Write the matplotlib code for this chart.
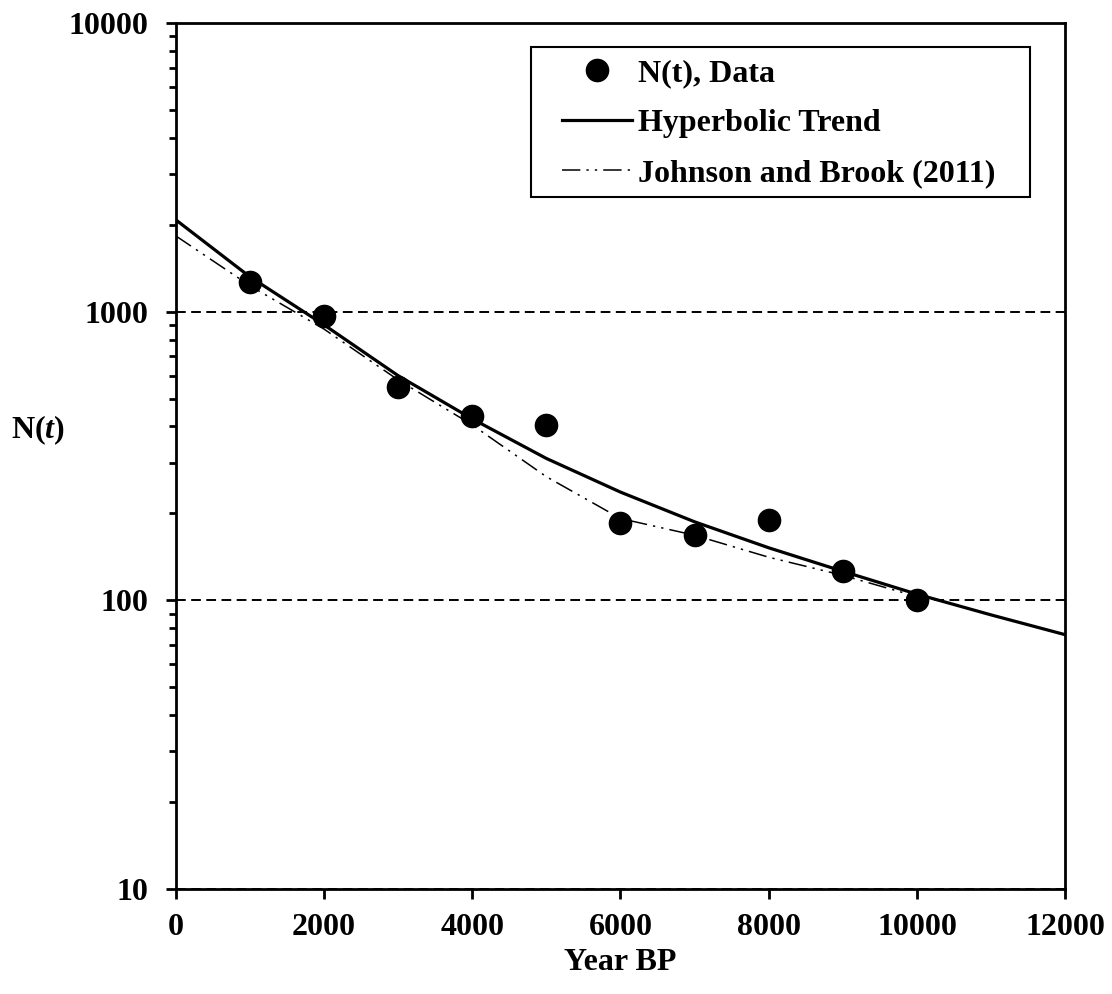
"""Population N(t) vs Year BP, log scale."""

import matplotlib
matplotlib.use("Agg")
import matplotlib.pyplot as plt
from matplotlib.patches import Rectangle
from matplotlib.ticker import FixedLocator, LogLocator, NullFormatter

plt.rcParams["font.family"] = ["Liberation Serif", "DejaVu Serif"]
plt.rcParams["font.weight"] = "bold"
plt.rcParams["mathtext.fontset"] = "custom"
plt.rcParams["mathtext.rm"] = "Liberation Serif:bold"
plt.rcParams["mathtext.it"] = "Liberation Serif:bold:italic"

# data
data_years = [1000, 2000, 3000, 4000, 5000, 6000, 7000, 8000, 9000, 10000]
data_n = [1267, 967, 548, 435, 405, 185, 169, 190, 126, 100]

trend_years = [0, 1000, 2000, 3000, 4000, 5000, 6000, 7000, 8000, 9000, 10000, 11000, 12000]
trend_n = [2080, 1320, 900, 600, 425, 310, 237, 187, 152, 126, 105, 89, 76]

jb_years = [0, 1000, 2000, 3000, 4000, 5000, 6000, 7000, 8000, 9000, 10000]
jb_n = [1830, 1230, 870, 580, 405, 268, 192, 168, 141, 122, 103]

x_ticks = [0, 2000, 4000, 6000, 8000, 10000, 12000]
y_ticks = [10, 100, 1000, 10000]

FS = 23

fig = plt.figure(figsize=(11.12, 9.94), dpi=100)
ax = fig.add_axes([0.158, 0.1056, 0.8, 0.8714])

ax.plot(data_years, data_n, "o", color="black", markersize=16, label="N(t), Data", zorder=4)
ax.plot(trend_years, trend_n, "-", color="black", linewidth=2.3, label="Hyperbolic Trend", zorder=3)
ax.plot(jb_years, jb_n, color="black", linewidth=1.1, dashes=(12, 4, 1.5, 4, 1.5, 4),
        label="Johnson and Brook (2011)", zorder=3)

ax.set_yscale("log")
ax.set_xlim(0, 12000)
ax.set_ylim(10, 10000)
ax.xaxis.set_major_locator(FixedLocator(x_ticks))
ax.yaxis.set_major_locator(FixedLocator(y_ticks))
ax.yaxis.set_minor_locator(LogLocator(base=10, subs=range(2, 10)))
ax.yaxis.set_minor_formatter(NullFormatter())
ax.set_xticklabels([str(v) for v in x_ticks])
ax.set_yticklabels([str(v) for v in y_ticks])

ax.yaxis.grid(True, which="major", linestyle=(0, (5, 2.8)), color="black", linewidth=1.4)

for s in ax.spines.values():
    s.set_linewidth(2)
ax.tick_params(axis="both", which="major", direction="out", length=7, width=2,
               labelsize=FS)
ax.tick_params(axis="x", which="major", pad=10)
ax.tick_params(axis="y", which="major", pad=13)
ax.tick_params(axis="y", which="minor", direction="out", length=5, width=2)

ax.set_xlabel("Year BP", fontsize=FS, fontweight="bold")
ax.xaxis.set_label_coords(0.5, -0.085)
ax.xaxis.label.set_va("center")
ax.set_ylabel("N($\\mathit{t}$)", fontsize=FS, fontweight="bold", rotation=0)
ax.yaxis.set_label_coords(-0.155, 0.53)
ax.yaxis.label.set_va("center")
ax.yaxis.label.set_ha("center")

# legend entries without frame, box drawn separately (wider side padding)
leg = ax.legend(loc="upper left", bbox_to_anchor=(0.434, 0.958), borderaxespad=0,
                fontsize=FS, frameon=False, handlelength=2.2, handletextpad=0.2,
                labelspacing=0.64, borderpad=0)
ax.add_patch(Rectangle((0.399, 0.799), 0.561, 0.173, transform=ax.transAxes,
                       fill=False, edgecolor="black", linewidth=1.5, zorder=5))

fig.savefig("out.png", dpi=100)
